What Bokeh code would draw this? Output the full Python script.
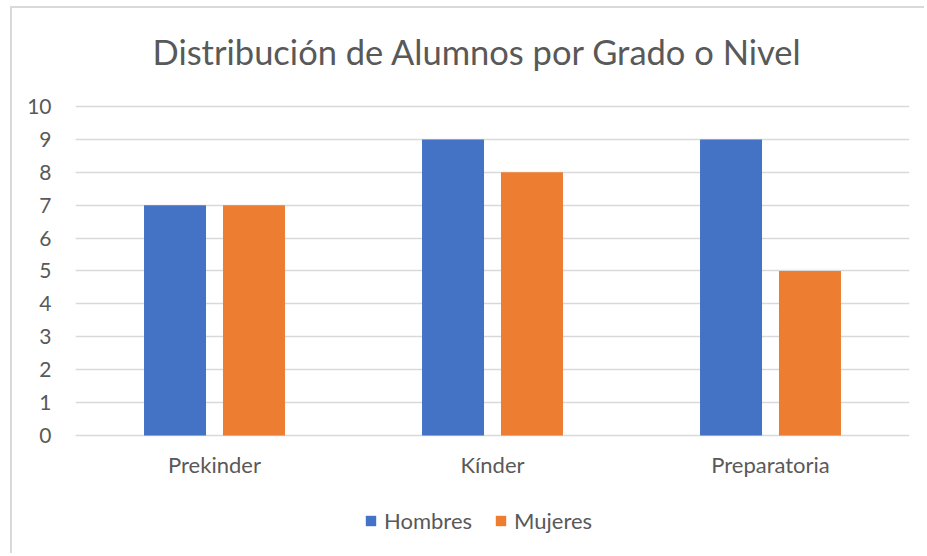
from bokeh.plotting import figure
from bokeh.models import FactorRange, Range1d, Legend, LegendItem
from bokeh.transform import dodge
from bokeh.embed import file_html
from bokeh.resources import INLINE
from bokeh.models import ColumnDataSource

categories = ["Prekinder", "Kínder", "Preparatoria"]
hombres = [7, 9, 9]
mujeres = [7, 8, 5]
y_ticks = [0, 1, 2, 3, 4, 5, 6, 7, 8, 9, 10]

FONT = "Lato"
TXT = "#595959"

src = ColumnDataSource(dict(cat=categories, hombres=hombres, mujeres=mujeres))

# frame extends below zero (category labels, legend) and a bit above 10 (title spacing)
p = figure(x_range=FactorRange(*categories), y_range=Range1d(-3.648, 10.547),
           width=914, height=547, output_backend="svg", toolbar_location=None,
           min_border_left=63, min_border_right=17, min_border_top=80, min_border_bottom=0)
p.styles = {"margin-left": "10px", "margin-top": "6px",
            "border-left": "2px solid #D9D9D9", "border-top": "2px solid #D9D9D9"}

r1 = p.vbar(x=dodge("cat", -0.142, range=p.x_range), top="hombres", width=0.223,
            source=src, fill_color="#4472C4", line_color=None)
r2 = p.vbar(x=dodge("cat", 0.142, range=p.x_range), top="mujeres", width=0.223,
            source=src, fill_color="#ED7D31", line_color=None)

p.title.text = "Distribución de Alumnos por Grado o Nivel"
p.title.align = "left"
p.title.offset = 77
p.title.text_font = FONT
p.title.text_font_size = "34.5px"
p.title.text_font_style = "normal"
p.title.text_color = TXT
p.title.standoff = 34

p.outline_line_color = None
p.xgrid.grid_line_color = None
p.ygrid.grid_line_color = "#D9D9D9"
p.ygrid.grid_line_width = 1.3
p.yaxis.ticker = y_ticks
p.xaxis.fixed_location = 0

for ax in (p.xaxis, p.yaxis):
    ax.axis_line_color = None
    ax.major_tick_line_color = None
    ax.minor_tick_line_color = None
    ax.major_label_text_font = FONT
    ax.major_label_text_color = TXT
p.yaxis.major_label_text_font_size = "21px"
p.xaxis.major_label_text_font_size = "22px"
p.yaxis.major_label_standoff = 18
p.xaxis.major_label_standoff = 10

legend = Legend(items=[LegendItem(label="Hombres", renderers=[r1]),
                       LegendItem(label="Mujeres", renderers=[r2])],
                orientation="horizontal", location=(289, 21),
                border_line_color=None, background_fill_alpha=0,
                glyph_width=13, glyph_height=13, label_standoff=7, spacing=22,
                label_text_font=FONT, label_text_font_size="22px", label_text_color=TXT,
                padding=0, margin=0)
p.add_layout(legend, "center")

open("out.html", "w").write(file_html(p, INLINE))
